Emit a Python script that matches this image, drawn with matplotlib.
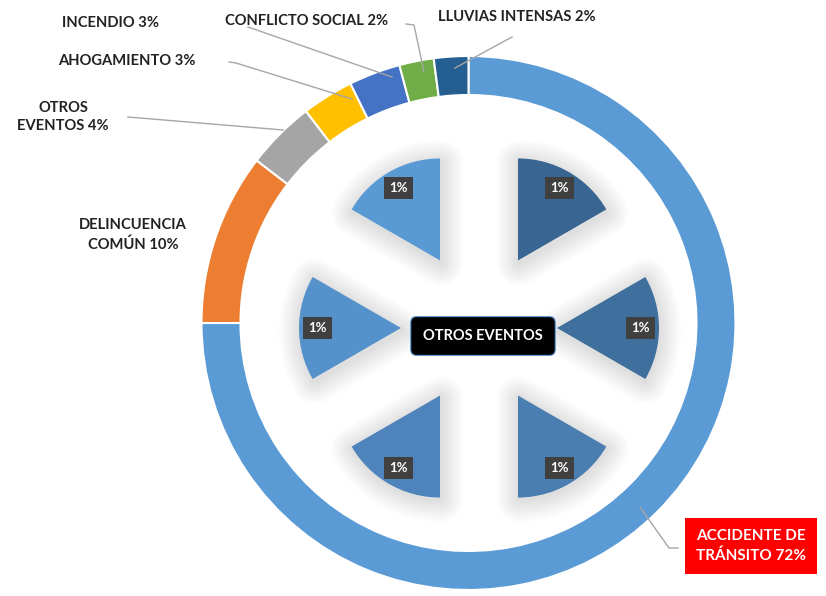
import matplotlib.pyplot as plt
import matplotlib

matplotlib.rcParams['font.family'] = ['Lato', 'DejaVu Sans']

# datos del anillo exterior
categorias = ['ACCIDENTE DE\nTRÁNSITO', 'DELINCUENCIA\nCOMÚN', 'OTROS\nEVENTOS',
              'AHOGAMIENTO', 'INCENDIO', 'CONFLICTO SOCIAL', 'LLUVIAS INTENSAS']
porcentajes = [72, 10, 4, 3, 3, 2, 2]
colores = ['#5B9BD5', '#ED7D31', '#A5A5A5', '#FFC000', '#4472C4', '#70AD47', '#255E91']

# detalle de "otros eventos"
otros_valores = [1, 1, 1, 1, 1, 1]
otros_colores = ['#386592', '#3F6F9C', '#4A7DB0', '#4E84BB', '#5592CB', '#5A9AD4']

W, H = 826, 596
fig = plt.figure(figsize=(W / 100, H / 100), dpi=100)
ax = fig.add_axes([0, 0, 1, 1])


def Y(y):
    # coordenadas de imagen -> datos
    return H - y


# anillo exterior
ax.pie(porcentajes, colors=colores, startangle=90, counterclock=False,
       radius=267, center=(468.5, Y(323)),
       wedgeprops=dict(width=39, edgecolor='white', linewidth=1.5))

# sombra difusa de las porciones interiores
c_in = (479, Y(328))
sep = [78] * 6  # explode en unidades absolutas
for lw in range(32, 0, -3):
    ax.pie(otros_valores, startangle=90, counterclock=False, radius=101,
           center=(c_in[0] + 1, c_in[1] - 3), explode=sep,
           wedgeprops=dict(facecolor='none', edgecolor=(0, 0, 0, 0.011),
                           linewidth=lw, joinstyle='round'))

wedges, _, autotexts = ax.pie(
    otros_valores, colors=otros_colores, startangle=90, counterclock=False,
    radius=102, center=c_in, explode=sep,
    autopct=lambda p: '1%', pctdistance=0.82)
for t in autotexts:
    t.set_color('white')
    t.set_fontweight('bold')
    t.set_fontsize(9.5)
    t.set_bbox(dict(boxstyle='square,pad=0.4', fc='#404040', ec='none'))

ax.text(483, Y(336), 'OTROS EVENTOS', ha='center', va='center', color='white',
        fontsize=10.5, fontweight='bold',
        bbox=dict(boxstyle='round,pad=0.85,rounding_size=0.4', fc='black',
                  ec='#5B9BD5', lw=0.8))

# etiquetas exteriores
kw = dict(fontsize=10.6, fontweight='bold', color='#222222', ha='center', va='center')
ax.text(517, Y(17), f'{categorias[6]} {porcentajes[6]}%', **kw)
ax.text(307, Y(21), f'{categorias[5]} {porcentajes[5]}%', **kw)
ax.text(111, Y(23), f'{categorias[4]} {porcentajes[4]}%', **kw)
ax.text(127, Y(61), f'{categorias[3]} {porcentajes[3]}%', **kw)
ax.text(63, Y(117), f'{categorias[2]} {porcentajes[2]}%', linespacing=1.45, **kw)
ax.text(133, Y(235), f'{categorias[1]} {porcentajes[1]}%', linespacing=1.45, **kw)
ax.text(751, Y(546), f'{categorias[0]} {porcentajes[0]}%', fontsize=11,
        fontweight='bold', color='white', ha='center', va='center', linespacing=1.45,
        bbox=dict(boxstyle='square,pad=0.7', fc='#FF0000', ec='none'))

# lineas guia
lc = dict(color='#A6A6A6', lw=1)
ax.plot([455, 512], [Y(68), Y(37)], **lc)
ax.plot([424, 414, 406], [Y(72), Y(25), Y(24)], **lc)
ax.plot([248, 392], [Y(27), Y(77)], **lc)
ax.plot([229, 236, 352], [Y(62), Y(63), Y(99)], **lc)
ax.plot([128, 283], [Y(117), Y(130)], **lc)
ax.plot([640, 669, 678], [Y(507), Y(548), Y(548)], **lc)

ax.set_xlim(0, W)
ax.set_ylim(0, H)
ax.set_aspect('auto')
ax.axis('off')

plt.savefig('out.png', dpi=100)
